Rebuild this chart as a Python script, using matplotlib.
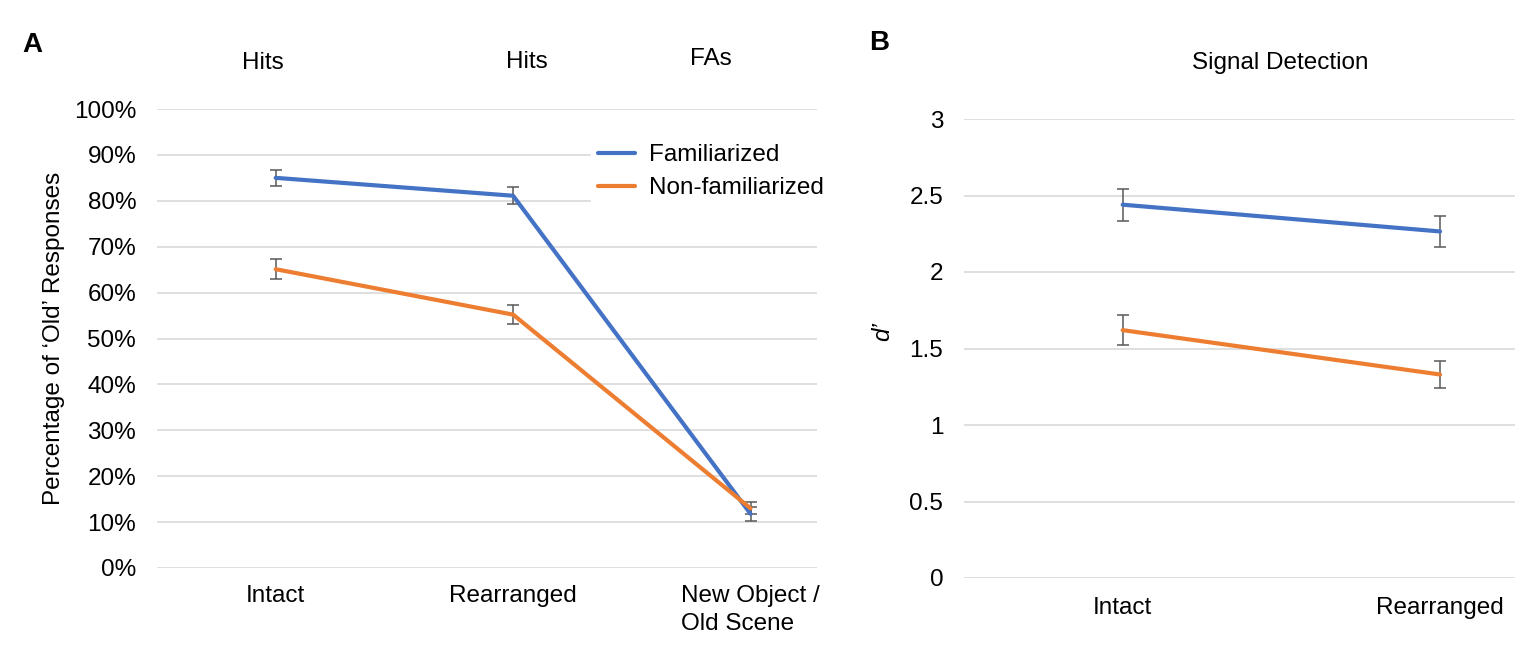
import numpy as np
import matplotlib
matplotlib.use("Agg")
import matplotlib.pyplot as plt

plt.rcParams['font.family'] = ['Liberation Sans', 'DejaVu Sans']

# panel A: percentage of 'old' responses
cats_a = ["Intact", "Rearranged", "New Object /\nOld Scene"]
fam_a = [85.0, 81.1, 11.8]
fam_a_err = [1.7, 1.8, 1.5]
nonfam_a = [65.1, 55.2, 13.0]
nonfam_a_err = [2.2, 2.1, 1.3]
headers_a = ["Hits", "Hits", "FAs"]

# panel B: d'
cats_b = ["Intact", "Rearranged"]
fam_b = [2.44, 2.265]
fam_b_err = [0.105, 0.10]
nonfam_b = [1.62, 1.33]
nonfam_b_err = [0.10, 0.088]

blue = "#4472C4"
orange = "#ED7D31"
grid_c = "#D9D9D9"
err_c = "#595959"
fs = 17.5

W, H = 1535, 647
fig = plt.figure(figsize=(W / 100, H / 100), dpi=100)

def box(l, t, r, b):
    return [l / W, 1 - b / H, (r - l) / W, (b - t) / H]

def style(ax):
    for s in ax.spines.values():
        s.set_visible(False)
    ax.tick_params(length=0, labelsize=fs)
    ax.yaxis.grid(True, color=grid_c, lw=1.2)
    ax.set_axisbelow(True)

def draw(ax, y, err, color, label):
    x = np.arange(len(y))
    ax.errorbar(x, y, yerr=err, fmt="none", ecolor=err_c, elinewidth=1.1,
                capsize=4, capthick=1.1, zorder=2)
    ax.plot(x, y, color=color, lw=3, solid_capstyle="round", label=label, zorder=3)

# ---- panel A
ax1 = fig.add_axes(box(157, 109, 817, 568))
style(ax1)
draw(ax1, fam_a, fam_a_err, blue, "Familiarized")
draw(ax1, nonfam_a, nonfam_a_err, orange, "Non-familiarized")
ax1.set_ylim(0, 100)
ax1.set_yticks(np.arange(0, 101, 10))
ax1.set_yticklabels([f"{v}%" for v in range(0, 101, 10)])
ax1.set_xlim(-0.5, 2.28)
ax1.set_xticks(range(len(cats_a)))
ax1.set_xticklabels(cats_a, multialignment="left", linespacing=1.4)
ax1.tick_params(axis="y", pad=15)
ax1.tick_params(axis="x", pad=12)
ax1.set_ylabel("Percentage of \u2018Old\u2019 Responses", fontsize=fs, labelpad=6)
leg = ax1.legend(loc="upper left", bbox_to_anchor=((579 - 157) / 660, (568 - 125) / 459),
                 frameon=True, framealpha=1, edgecolor="white", fontsize=fs,
                 handlelength=1.5, handletextpad=0.6, labelspacing=0.45, borderpad=0.3)

for txt, xp, yp in zip(headers_a, [263, 527, 711], [63, 62, 59]):
    fig.text(xp / W, 1 - yp / H, txt, ha="center", va="center", fontsize=fs)

fig.text(32 / W, 1 - 45 / H, "A", ha="center", va="center", fontsize=20, fontweight="bold")

# ---- panel B
ax2 = fig.add_axes(box(964, 119, 1515, 578))
style(ax2)
draw(ax2, fam_b, fam_b_err, blue, "Familiarized")
draw(ax2, nonfam_b, nonfam_b_err, orange, "Non-familiarized")
ax2.set_ylim(0, 3)
ax2.set_yticks(np.arange(0, 3.01, 0.5))
ax2.set_yticklabels(["0", "0.5", "1", "1.5", "2", "2.5", "3"])
ax2.set_xlim(-0.5, 1.236)
ax2.set_xticks(range(len(cats_b)))
ax2.set_xticklabels(cats_b)
ax2.tick_params(axis="y", pad=15)
ax2.tick_params(axis="x", pad=14)

fig.text(1280 / W, 1 - 63 / H, "Signal Detection", ha="center", va="center", fontsize=fs)
fig.text(883 / W, 1 - 332 / H, "d\u2019", ha="center", va="center", fontsize=fs,
         style="italic", rotation=90)
fig.text(879 / W, 1 - 43 / H, "B", ha="center", va="center", fontsize=20, fontweight="bold")

fig.savefig("out.png", dpi=100, facecolor="white")
